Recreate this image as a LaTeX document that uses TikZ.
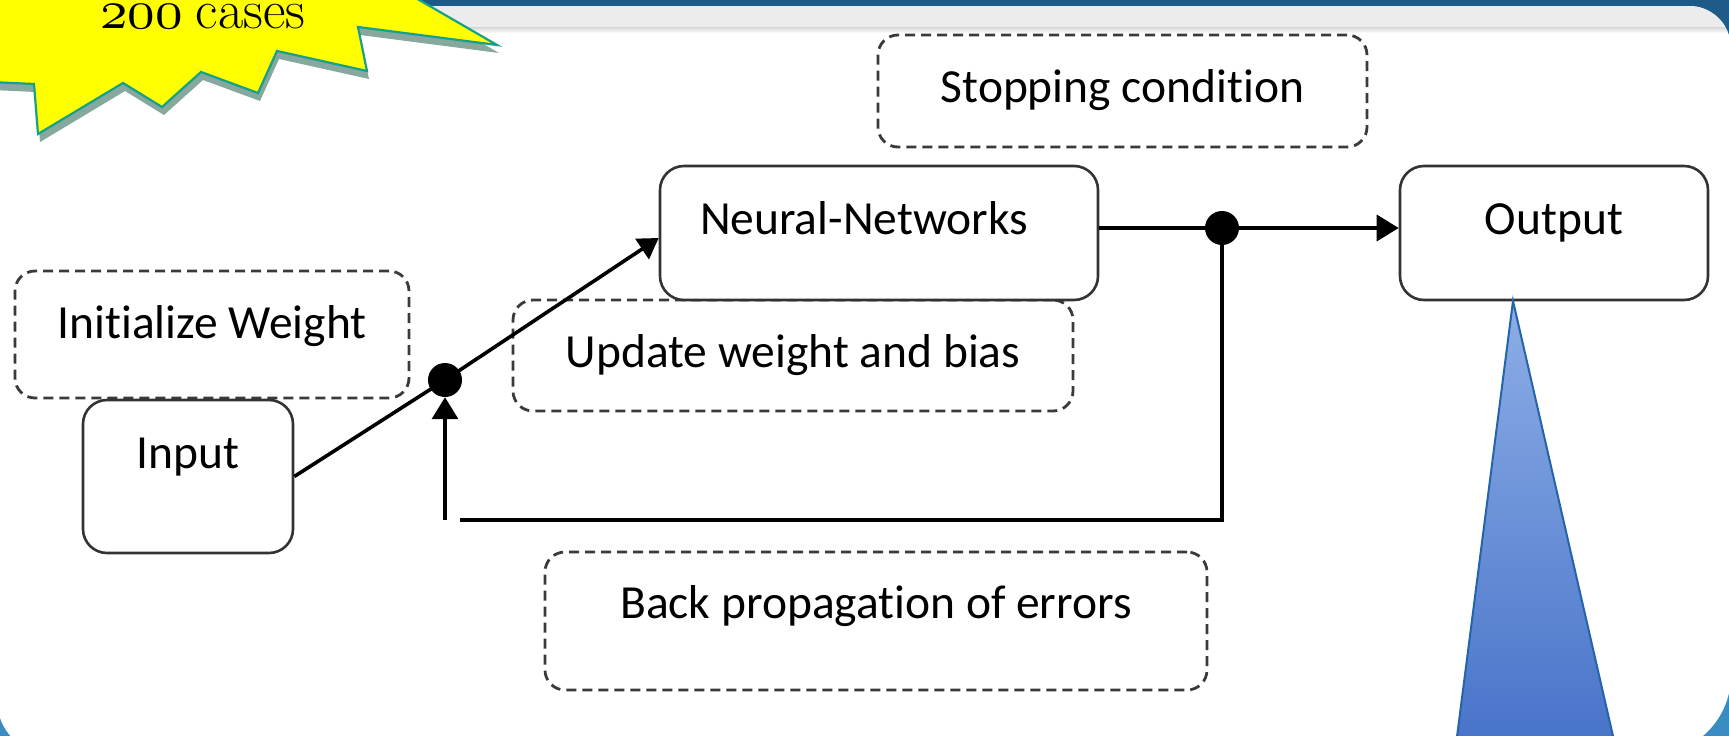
\documentclass[tikz,border=0pt]{standalone}
\usepackage{fontspec}
\setmainfont{Carlito}[Ligatures=NoCommon]
\newfontfamily\lmserif{Latin Modern Roman}
% old-style figures taken from the math italic font, scalable to any size
\DeclareFontFamily{OML}{osfdig}{\skewchar\font'177}
\DeclareFontShape{OML}{osfdig}{m}{it}{<->cmmi10}{}
\newcommand{\osfnum}[1]{{\usefont{OML}{osfdig}{m}{it}#1}}
\usetikzlibrary{arrows.meta}

\definecolor{frameTop}{HTML}{1D5A87}
\definecolor{frameBot}{HTML}{3A8FC4}
\definecolor{stripGray}{HTML}{ECECEC}
\definecolor{stripEdge}{HTML}{D6D6D6}
\definecolor{burstFill}{HTML}{FFFF00}
\definecolor{burstEdge}{HTML}{16A08A}
\definecolor{burstShadow}{HTML}{86A89E}
\definecolor{boxLine}{HTML}{333333}
\definecolor{dashLine}{HTML}{3A3A3A}
\definecolor{wedgeTop}{HTML}{8DAEE6}
\definecolor{wedgeBot}{HTML}{4571C8}
\definecolor{wedgeEdge}{HTML}{2464A8}

\begin{document}
\begin{tikzpicture}[x=1pt,y=-1pt,
  lblfont/.style={font=\fontsize{47.5}{56}\selectfont},
  solidbox/.style={draw=boxLine, line width=2.6pt, rounded corners=24pt,
    fill=white, inner sep=0pt, lblfont},
  dashbox/.style={draw=dashLine, line width=2.8pt, rounded corners=20pt,
    dash pattern=on 10pt off 6pt, inner sep=0pt, lblfont},
  boxsize/.style 2 args={minimum width=#1, minimum height=#2},
  textbox/.style 2 args={text height=#1, text depth=#2},
  link/.style={line width=3.6pt, black},
  tip/.style={-{Triangle[length=22pt,width=26pt]}},
  joint/.style={circle, fill=black, inner sep=0pt, minimum size=34pt}
]
\useasboundingbox (0,0) rectangle (1729,736);
\clip (0,0) rectangle (1729,736);

% outer frame and white panel
\fill[top color=frameTop, bottom color=frameBot] (-5,-5) rectangle (1735,760);
\path[fill=white] (39,6) -- (1689,6)
  arc[start angle=-90, end angle=0, radius=42] -- (1731,675)
  arc[start angle=0, end angle=90, radius=80] -- (52,755)
  arc[start angle=90, end angle=180, radius=55] -- (-3,48)
  arc[start angle=180, end angle=270, radius=42] -- cycle;
\begin{scope}
  \clip (39,6) -- (1689,6)
    arc[start angle=-90, end angle=0, radius=42] -- (1731,80) -- (-3,80)
    -- (-3,48) arc[start angle=180, end angle=270, radius=42] -- cycle;
  \fill[stripGray] (-3,0) rectangle (1731,27);
  \fill[top color=stripEdge, bottom color=white] (-3,27) rectangle (1731,33);
\end{scope}

% dashed annotation boxes
\node[dashbox, boxsize={394pt}{127pt}, textbox={32pt}{25pt}]
  (initBox) at (212,334.5) {Initialize Weight};
\node[dashbox, boxsize={560pt}{111pt}, textbox={40pt}{17pt}]
  (updBox) at (793,355.5) {Update weight and bias};
\node[dashbox, boxsize={489pt}{112pt}, textbox={40pt}{18pt}]
  (stopBox) at (1122.5,91) {Stopping condition};
\node[dashbox, boxsize={662pt}{138pt}, textbox={32pt}{38pt}]
  (backBox) at (876,621) {Back propagation of errors};

% process boxes
\node[solidbox, boxsize={210pt}{153pt}, textbox={32pt}{49pt}]
  (inputBox) at (188,476.5) {Input};
\node[solidbox, boxsize={438pt}{134pt}, textbox={32pt}{30pt}]
  (nnBox) at (879,233) {Neural-Networks\hspace*{30pt}};
\node[solidbox, boxsize={308pt}{134pt}, textbox={32pt}{30pt}]
  (outBox) at (1554,233) {Output};

% junctions and free ends of the feedback loop
\node[joint] (dotA) at (445,380) {};
\node[joint] (dotB) at (1222,228) {};
\coordinate (fbStart) at (445,520);
\coordinate (fbLeft) at (460,520);
\coordinate (fbCorner) at (1222,520);

% connectors
\draw[link] (inputBox.east) -- (dotA.center);
\draw[link, -{Triangle[length=20pt,width=24pt]}] (dotA.center) -- ([yshift=-5pt]nnBox.west);
\draw[link, tip] (fbStart) -- (dotA.south);
\draw[link] (dotB.center) -- (fbCorner) -- (fbLeft);
\draw[link] (nnBox.east |- dotB) -- (dotB.center);
\draw[link, tip] (dotB.center) -- (outBox.west |- dotB);

% blue wedge under the output box
\coordinate (apex) at (1513,301);
\draw[wedgeEdge, line width=2pt, top color=wedgeTop, bottom color=wedgeBot]
  (apex) -- (1618.5,760) -- (1454,760) -- cycle;

% starburst callout
\fill[burstShadow] (-8,-2) -- (404,-2) -- (499,53) -- (360,35) -- (369,79)
  -- (279,59) -- (260,101) -- (203,80) -- (164,115) -- (125,91) -- (40,142)
  -- (36,92) -- (-8,90) -- cycle;
\draw[burstEdge, line width=2.2pt, fill=burstFill] (-10,-10) -- (402,-10)
  -- (497,45) -- (358,27) -- (367,71) -- (277,51) -- (258,93) -- (201,72)
  -- (162,107) -- (123,83) -- (38,134) -- (34,84) -- (-10,82) -- cycle;
\node[anchor=base west, inner sep=0pt, font=\fontsize{55}{62}\selectfont\lmserif]
  (burstText) at (100,28) {\osfnum{200}\hspace{0.24em}cases};
\end{tikzpicture}
\end{document}
